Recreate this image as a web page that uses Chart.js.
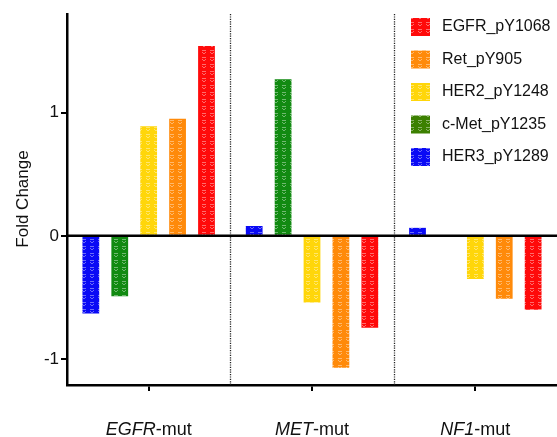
<!DOCTYPE html>
<html><head><meta charset="utf-8">
<script src="https://cdn.jsdelivr.net/npm/chart.js@4/dist/chart.umd.min.js"></script>
<style>html,body{margin:0;padding:0;background:#fff;}#wrap{width:557px;height:437px;}</style>
</head><body><div id="wrap"><canvas id="c" width="557" height="437"></canvas></div>
<script>
const categories = ['EGFR-mut', 'MET-mut', 'NF1-mut'];
const catItalic = ['EGFR', 'MET', 'NF1'];
const catSuffix = '-mut';
const seriesNames = ['HER3_pY1289', 'c-Met_pY1235', 'HER2_pY1248', 'Ret_pY905', 'EGFR_pY1068'];
const her3 = [-0.63, 0.08, 0.065];
const cmet = [-0.49, 1.27, 0];
const her2 = [0.89, -0.54, -0.35];
const ret = [0.95, -1.07, -0.51];
const egfr = [1.54, -0.745, -0.60];
const yTicks = [-1, 0, 1];
const seriesColors = ['#0a0af5', '#118a11', '#ffd60a', '#ff8a0a', '#ff0a0a'];
const legendColors = ['#0a0af5', '#3c8000', '#ffd60a', '#ff8a0a', '#ff0a0a'];
const seriesValues = [her3, cmet, her2, ret, egfr];

function makePattern(color) {
  const t = document.createElement('canvas');
  t.width = 8; t.height = 7;
  const g = t.getContext('2d');
  g.fillStyle = color; g.fillRect(0, 0, 8, 7);
  g.fillStyle = 'rgba(255,255,255,0.4)';
  g.fillRect(2, 1, 4, 1);
  g.fillRect(2, 3, 1, 1); g.fillRect(5, 3, 1, 1); g.fillRect(3, 4, 2, 1);
  return document.getElementById('c').getContext('2d').createPattern(t, 'repeat');
}

const FONT = '"Liberation Sans", Arial, sans-serif';

const decor = {
  id: 'decor',
  afterDatasetsDraw(chart) {
    const ctx = chart.ctx, a = chart.chartArea, x = chart.scales.x, y = chart.scales.y;
    ctx.save();
    ctx.strokeStyle = '#222'; ctx.lineWidth = 1.3; ctx.setLineDash([1.2, 1.2]);
    for (let i = 0; i < categories.length - 1; i++) {
      const px = Math.round((x.getPixelForValue(i) + x.getPixelForValue(i + 1)) / 2) + 0.5;
      ctx.beginPath(); ctx.moveTo(px, a.top); ctx.lineTo(px, a.bottom); ctx.stroke();
    }
    ctx.setLineDash([]);
    const zy = y.getPixelForValue(0);
    ctx.strokeStyle = '#000'; ctx.lineWidth = 2.5;
    ctx.beginPath(); ctx.moveTo(a.left, zy); ctx.lineTo(a.right, zy); ctx.stroke();
    ctx.restore();
  },
  afterDraw(chart) {
    const ctx = chart.ctx, x = chart.scales.x;
    ctx.save();
    ctx.fillStyle = '#111'; ctx.textBaseline = 'alphabetic';
    for (let i = 0; i < categories.length; i++) {
      const cx = x.getPixelForValue(i);
      ctx.font = 'italic 18px ' + FONT;
      const w1 = ctx.measureText(catItalic[i]).width;
      ctx.font = '18px ' + FONT;
      const w2 = ctx.measureText(catSuffix).width;
      const sx = cx - (w1 + w2) / 2;
      ctx.textAlign = 'left';
      ctx.font = 'italic 18px ' + FONT;
      ctx.fillText(catItalic[i], sx, 435);
      ctx.font = '18px ' + FONT;
      ctx.fillText(catSuffix, sx + w1, 435);
    }
    ctx.translate(28, 199);
    ctx.rotate(-Math.PI / 2);
    ctx.font = '17px ' + FONT; ctx.textAlign = 'center';
    ctx.fillText('Fold Change', 0, 0);
    ctx.restore();
    ctx.save();
    ctx.font = '16px ' + FONT; ctx.textBaseline = 'middle'; ctx.textAlign = 'left';
    for (let k = 0; k < seriesNames.length; k++) {
      const di = seriesNames.length - 1 - k;
      const cy = 27 + k * 32.5;
      ctx.fillStyle = makePattern(legendColors[di]);
      ctx.fillRect(411, cy - 9, 19, 18);
      ctx.fillStyle = '#111';
      ctx.fillText(seriesNames[di], 442, cy);
    }
    ctx.restore();
  }
};

new Chart(document.getElementById('c'), {
  type: 'bar',
  data: {
    labels: categories,
    datasets: seriesNames.map((n, i) => ({
      label: n,
      data: seriesValues[i],
      backgroundColor: makePattern(seriesColors[i]),
      borderWidth: 0,
      categoryPercentage: 0.885,
      barPercentage: 0.58
    }))
  },
  options: {
    responsive: false,
    animation: false,
    devicePixelRatio: 1,
    layout: { padding: { top: 14, right: 0, left: 0, bottom: 0 } },
    plugins: { legend: { display: false }, tooltip: { enabled: false } },
    scales: {
      x: {
        grid: { display: true, drawOnChartArea: false, offset: false, color: '#000', lineWidth: 2, tickLength: 6 },
        border: { display: true, color: '#000', width: 2.5 },
        ticks: { display: false },
        afterFit(s) { s.height = 52; }
      },
      y: {
        min: -1.21, max: 1.8,
        afterBuildTicks(s) { s.ticks = yTicks.map(v => ({ value: v })); },
        grid: { display: true, drawOnChartArea: false, color: '#000', lineWidth: 2, tickLength: 6 },
        border: { display: true, color: '#000', width: 2.5 },
        ticks: { color: '#111', font: { size: 17, family: FONT }, padding: 2, callback: v => String(v) },
        afterFit(s) { s.width = 67; }
      }
    }
  },
  plugins: [decor]
});
</script></body></html>
